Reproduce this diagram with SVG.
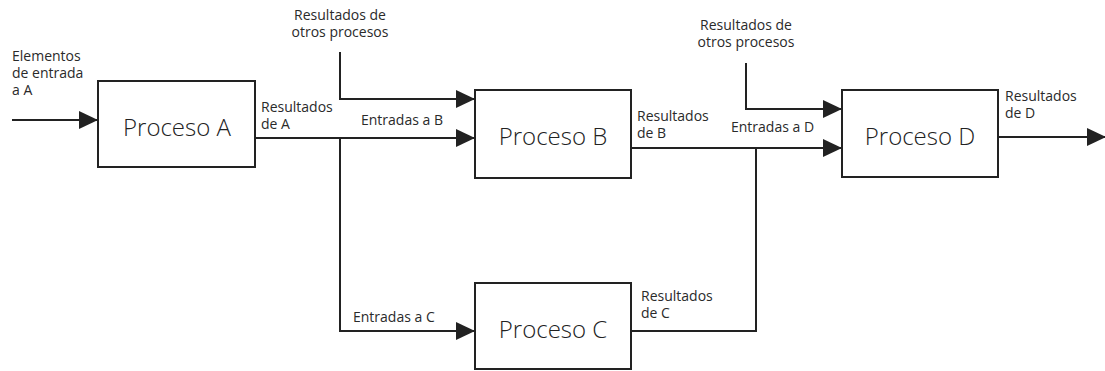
<svg xmlns="http://www.w3.org/2000/svg" width="1105" height="371" viewBox="0 0 1105 371">
<style>
.box{fill:#fff;stroke:#222;stroke-width:2}
.ln{fill:none;stroke:#222;stroke-width:2}
.big{font-family:"Open Sans","Liberation Sans",sans-serif;font-size:24px;font-weight:300;fill:#222;text-anchor:middle}
.sm{font-family:"Open Sans","Liberation Sans",sans-serif;font-size:14px;font-weight:400;fill:#2a2a2a}
.mid{text-anchor:middle}
</style>
<defs>
<marker id="arr" markerUnits="userSpaceOnUse" markerWidth="19" markerHeight="18" refX="19" refY="9" orient="auto">
<path d="M0,0 L19,9 L0,18 z" fill="#222"/>
</marker>
</defs>
<rect width="1105" height="371" fill="#fff"/>
<g id="connectors">
<path class="ln" d="M12,120 H98" marker-end="url(#arr)"/>
<path class="ln" d="M255,138 H475" marker-end="url(#arr)"/>
<path class="ln" d="M340,52 V99 H475" marker-end="url(#arr)"/>
<path class="ln" d="M340,138 V331 H475" marker-end="url(#arr)"/>
<path class="ln" d="M631,148 H842" marker-end="url(#arr)"/>
<path class="ln" d="M746,63 V109 H842" marker-end="url(#arr)"/>
<path class="ln" d="M631,331 H756 V148"/>
<path class="ln" d="M998,137 H1106" marker-end="url(#arr)"/>
</g>
<g id="labels">
<text class="sm" x="12" y="61">Elementos</text>
<text class="sm" x="12" y="78">de entrada</text>
<text class="sm" x="12" y="95">a A</text>
<text class="sm" x="261" y="112">Resultados</text>
<text class="sm" x="261" y="129">de A</text>
<text class="sm mid" x="340" y="20">Resultados de</text>
<text class="sm mid" x="340" y="37">otros procesos</text>
<text class="sm" x="361" y="125">Entradas a B</text>
<text class="sm" x="353" y="322">Entradas a C</text>
<text class="sm" x="637" y="121">Resultados</text>
<text class="sm" x="637" y="138">de B</text>
<text class="sm mid" x="746" y="30">Resultados de</text>
<text class="sm mid" x="746" y="47">otros procesos</text>
<text class="sm" x="731" y="132">Entradas a D</text>
<text class="sm" x="641" y="301">Resultados</text>
<text class="sm" x="641" y="318">de C</text>
<text class="sm" x="1005" y="101">Resultados</text>
<text class="sm" x="1005" y="118">de D</text>
</g>
<g id="procesoA"><rect class="box" x="98" y="81" width="157" height="86"/><text class="big" x="177" y="136">Proceso A</text></g>
<g id="procesoB"><rect class="box" x="475" y="90" width="156" height="88"/><text class="big" x="553" y="145">Proceso B</text></g>
<g id="procesoC"><rect class="box" x="475" y="283" width="156" height="86"/><text class="big" x="553" y="338">Proceso C</text></g>
<g id="procesoD"><rect class="box" x="842" y="90" width="156" height="87"/><text class="big" x="920" y="145">Proceso D</text></g>
</svg>
